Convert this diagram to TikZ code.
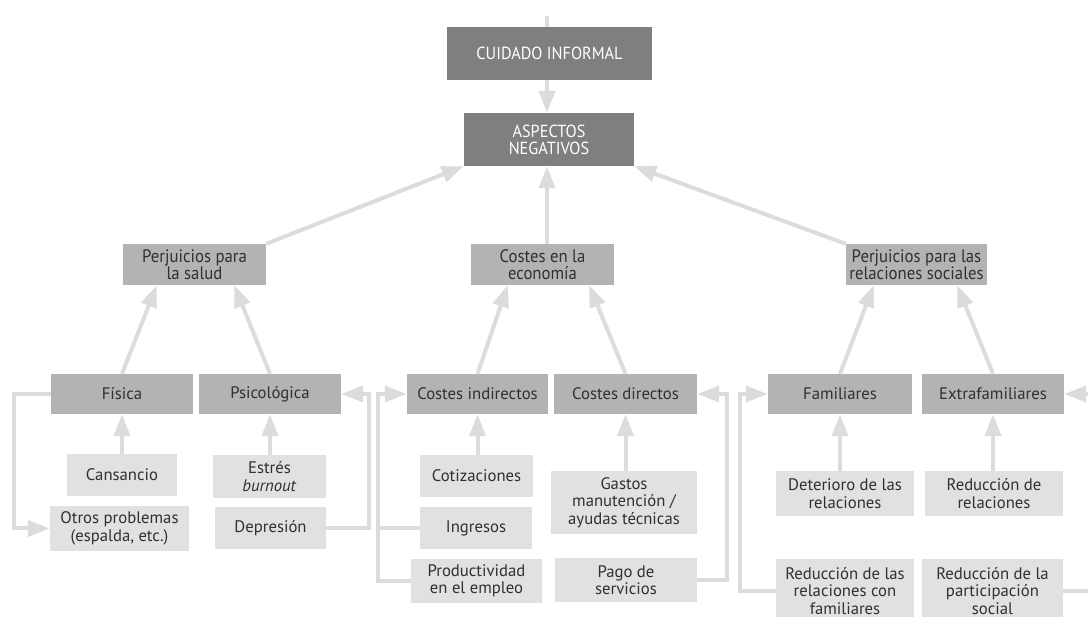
\documentclass[tikz,border=0pt]{standalone}
\usepackage{fontspec}
\setmainfont{PT Sans}
\newfontfamily\narrowfont[FakeStretch=0.93]{PT Sans}
\usetikzlibrary{arrows.meta}
\definecolor{boxdark}{HTML}{7F7F7F}
\definecolor{boxmid}{HTML}{B3B3B3}
\definecolor{boxlight}{HTML}{E1E1E1}
\definecolor{linegray}{HTML}{DCDCDC}
\definecolor{textgray}{HTML}{303030}
\tikzset{
  dark/.style={fill=boxdark, text=white, inner sep=0pt, align=center,
    font=\narrowfont\fontsize{17.5}{17}\selectfont},
  mid/.style={fill=boxmid, text=textgray, inner sep=0pt, align=center,
    font=\fontsize{16.7}{17.5}\selectfont},
  midnarrow/.style={mid, font=\narrowfont\fontsize{18}{17}\selectfont},
  light/.style={fill=boxlight, text=textgray, inner sep=0pt, align=center,
    font=\fontsize{16.7}{17.5}\selectfont},
  conn/.style={draw=linegray, line width=4pt},
  arr/.style={conn, -{Triangle[length=22pt,width=16pt]}}
}
\begin{document}
\begin{tikzpicture}[x=1pt,y=-1pt]
\useasboundingbox (0,0) rectangle (1088,617);
\clip (0,0) rectangle (1088,617);
% top levels
\node[dark, minimum width=205pt, minimum height=53pt] (cuidado) at (549.5,53.5) {CUIDADO INFORMAL};
\node[dark, minimum width=170pt, minimum height=53pt] (aspectos) at (549,139.5) {ASPECTOS\\NEGATIVOS};
\node[midnarrow, minimum width=143pt, minimum height=41pt] (salud) at (194.5,264.5) {Perjuicios para\\la salud};
\node[midnarrow, minimum width=143pt, minimum height=41pt] (economia) at (542.5,264.5) {Costes en la\\economía};
\node[midnarrow, minimum width=141pt, minimum height=41pt] (relaciones) at (916.5,264.5) {Perjuicios para las\\relaciones sociales};
% second row
\node[mid, minimum width=142pt, minimum height=40pt] (fisica) at (122,394) {Física};
\node[mid, minimum width=142pt, minimum height=40pt] (psico) at (270,394) {Psicológica};
\node[mid, minimum width=141pt, minimum height=40pt] (cind) at (477.5,394) {Costes indirectos};
\node[mid, minimum width=143pt, minimum height=40pt] (cdir) at (625.5,394) {Costes directos};
\node[mid, minimum width=144pt, minimum height=40pt] (fam) at (840,394) {Familiares};
\node[mid, minimum width=142pt, minimum height=40pt] (extra) at (993,394) {Extrafamiliares};
% bottom boxes
\node[light, minimum width=110pt, minimum height=42pt] (cansancio) at (122,475) {Cansancio};
\node[light, minimum width=139pt, minimum height=45pt] (otros) at (119.5,528.5) {Otros problemas\\(espalda, etc.)};
\node[light, minimum width=113pt, minimum height=43pt] (estres) at (269.5,476.5) {Estrés\\\textit{burnout}};
\node[light, minimum width=111pt, minimum height=42pt] (depresion) at (270.5,528) {Depresión};
\node[light, minimum width=113pt, minimum height=42pt] (cotiz) at (476.5,476) {Cotizaciones};
\node[light, minimum width=112pt, minimum height=42pt] (ingresos) at (476,528) {Ingresos};
\node[light, minimum width=131pt, minimum height=44pt] (product) at (476.5,581) {Productividad\\en el empleo};
\node[light, minimum width=146pt, minimum height=63pt] (gastos) at (624,502.5) {Gastos\\manutención /\\ayudas técnicas};
\node[light, minimum width=142pt, minimum height=44pt] (pago) at (626,580) {Pago de\\servicios};
\node[light, minimum width=138pt, minimum height=45pt] (deterioro) at (845,493.5) {Deterioro de las\\relaciones};
\node[light, minimum width=138pt, minimum height=45pt] (redrel) at (994,493.5) {Reducción de\\relaciones};
\node[light, minimum width=138pt, minimum height=64pt] (redfam) at (845,591) {Reducción de las\\relaciones con\\familiares};
\node[light, minimum width=141pt, minimum height=64pt] (redpart) at (992.5,591) {Reducción de la\\participación\\social};
% connectors
\coordinate (top) at (547,16);
\draw[conn] (top) -- (top |- cuidado.north);
\draw[arr] (cuidado.south -| top) -- (aspectos.north -| top);
\draw[arr] (salud.north east) -- (aspectos.south west);
\draw[arr] (economia.north -| top) -- (aspectos.south -| top);
\draw[arr] (relaciones.north west) -- (aspectos.south east);
\draw[arr] (fisica.north) -- ([xshift=34pt]salud.south west);
\draw[arr] (psico.north) -- ([xshift=-32pt]salud.south east);
\draw[arr] (cind.north) -- ([xshift=37pt]economia.south west);
\draw[arr] (cdir.north) -- ([xshift=-25pt]economia.south east);
\draw[arr] (fam.north) -- ([xshift=28pt]relaciones.south west);
\draw[arr] (extra.north) -- ([xshift=-30pt]relaciones.south east);
\draw[arr] (cansancio.north -| fisica) -- (fisica.south);
\draw[arr] (estres.north -| psico) -- (psico.south);
\draw[arr] (cotiz.north -| cind) -- (cind.south);
\draw[arr] (gastos.north -| cdir) -- (cdir.south);
\draw[arr] (deterioro.north -| fam) -- (fam.south);
\draw[arr] (redrel.north -| extra) -- (extra.south);
% side brackets
\draw[arr] (fisica.west) -- ++(-37pt,0) |- (otros.west);
\draw[arr] (depresion.east) -- ++(43pt,0) |- (psico.east);
\draw[arr] (ingresos.west) -- ++(-42pt,0) |- (cind.west);
\draw[conn] (product.west) -| ([xshift=-42pt]ingresos.west);
\draw[arr] (pago.east) -- ++(30pt,0) |- (cdir.east);
\draw[arr] (redfam.west) -- ++(-36pt,0) |- (fam.west);
\draw[arr] (redpart.east) -- ++(37pt,0) |- (extra.east);
\end{tikzpicture}
\end{document}
